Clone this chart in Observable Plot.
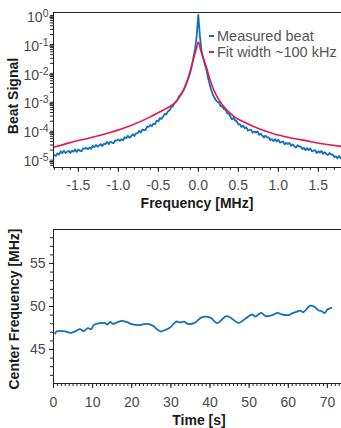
<!DOCTYPE html>
<html>
<head>
<meta charset="utf-8">
<script src="https://cdn.jsdelivr.net/npm/d3@7"></script>
<script src="https://cdn.jsdelivr.net/npm/@observablehq/plot@0.6"></script>
<style>
  body { margin: 0; background: #fff; }
  #wrap { position: relative; width: 341px; height: 428px; overflow: hidden; font-family: "Liberation Sans", Arial, sans-serif; }
  #wrap svg { display: block; }
  .ttl { position: absolute; white-space: nowrap; font-weight: bold; font-size: 14px; color: #1a1a1a; transform: translate(-50%, -50%); line-height: 1; }
  .ttl.rot { transform: translate(-50%, -50%) rotate(-90deg); }
  #legend { position: absolute; left: 209px; top: 28px; font-size: 14.5px; color: #555; line-height: 16px; white-space: nowrap; }
  #legend .sw { display: inline-block; width: 5px; height: 2px; vertical-align: middle; margin-right: 3px; position: relative; top: -1px; }
  g[aria-label$="tick label"] text { fill: #4a4a4a; }
</style>
</head>
<body>
<div id="wrap">
  <div id="topChart"></div>
  <div id="bottomChart"></div>
  <div class="ttl rot" style="left:13px; top:96px;">Beat Signal</div>
  <div class="ttl" style="left:197px; top:203px;">Frequency [MHz]</div>
  <div class="ttl rot" style="left:14px; top:309px;">Center Frequency [MHz]</div>
  <div class="ttl" style="left:199px; top:420px;">Time [s]</div>
  <div id="legend">
    <div><span class="sw" style="background:#1270bb"></span>Measured beat</div>
    <div><span class="sw" style="background:#e5194b"></span>Fit width ~100 kHz</div>
  </div>
</div>
<script>
// ---------- Data: top panel (beat spectrum) ----------
const beatFreqStart = -1.8;   // MHz, first sample
const beatFreqStep = 0.02;    // MHz, sample spacing
// log10 of measured beat signal
const beatLog10 = [
  -4.87,-4.90,-4.81,-4.85,-4.74,-4.80,-4.72,-4.80,-4.76,-4.72,
  -4.80,-4.72,-4.75,-4.68,-4.76,-4.68,-4.72,-4.74,-4.64,-4.65,
  -4.62,-4.67,-4.61,-4.65,-4.55,-4.60,-4.52,-4.58,-4.54,-4.49,
  -4.56,-4.48,-4.49,-4.42,-4.49,-4.41,-4.44,-4.46,-4.36,-4.37,
  -4.33,-4.38,-4.32,-4.36,-4.25,-4.29,-4.20,-4.27,-4.22,-4.15,
  -4.21,-4.12,-4.12,-4.03,-4.09,-3.99,-4.01,-4.01,-3.89,-3.89,
  -3.83,-3.87,-3.78,-3.80,-3.68,-3.70,-3.59,-3.62,-3.54,-3.45,
  -3.46,-3.36,-3.32,-3.21,-3.19,-3.08,-3.03,-2.96,-2.84,-2.78,
  -2.70,-2.60,-2.47,-2.32,-2.18,-2.01,-1.78,-1.48,-1.20,-0.75,
  -0.02,
  -0.75,-1.25,-1.50,-1.72,-1.90,-2.18,-2.40,-2.60,-2.76,-2.88,
  -2.98,-3.03,-3.06,-3.18,-3.20,-3.28,-3.30,-3.42,-3.44,-3.53,
  -3.63,-3.59,-3.67,-3.70,-3.81,-3.80,-3.90,-3.85,-3.94,-3.91,
  -4.02,-4.01,-3.99,-4.10,-4.05,-4.09,-4.05,-4.17,-4.13,-4.20,
  -4.26,-4.20,-4.26,-4.26,-4.35,-4.32,-4.39,-4.32,-4.40,-4.34,
  -4.44,-4.42,-4.40,-4.50,-4.45,-4.49,-4.45,-4.55,-4.50,-4.56,
  -4.61,-4.53,-4.58,-4.57,-4.66,-4.62,-4.70,-4.63,-4.70,-4.64,
  -4.74,-4.72,-4.70,-4.80,-4.74,-4.78,-4.73,-4.83,-4.77,-4.83,
  -4.87,-4.80,-4.85,-4.85,-4.94,-4.91,-4.98,-4.90,-4.98
];
const fitFreq = [-1.81,-1.6,-1.35,-1.1,-0.85,-0.6,-0.45,-0.35,-0.29,-0.24,-0.18,-0.14,-0.10,-0.06,-0.03,0,
                 0.03,0.067,0.10,0.15,0.20,0.25,0.32,0.44,0.61,0.775,0.94,1.15,1.36,1.57,1.79];
const fitLog10 = [-4.60,-4.44,-4.27,-4.09,-3.86,-3.55,-3.33,-3.18,-3.05,-2.88,-2.60,-2.32,-1.95,-1.55,-1.25,-0.96,
                  -1.25,-1.55,-1.82,-2.30,-2.66,-2.93,-3.20,-3.52,-3.78,-3.98,-4.13,-4.27,-4.38,-4.49,-4.57];
const freqTicks = [-1.5,-1.0,-0.5,0.0,0.5,1.0,1.5];
const signalExponents = [-5,-4,-3,-2,-1,0];

// ---------- Data: bottom panel (center frequency vs time) ----------
const timeS = [0.4,0.85,3.0,4.3,5.5,6.8,7.7,8.8,9.6,10.3,11.2,13.2,13.8,14.5,15.2,16.2,17.5,18.8,20.0,21.7,
  22.4,23.5,24.4,25.6,27.3,28.6,29.8,31.4,32.4,33.3,34.4,35.9,38.0,40.1,41.8,44.3,47.3,49.0,50.7,51.5,
  53.1,54.2,55.9,57.3,58.4,60.1,61.2,62.0,63.0,63.8,65.6,66.6,67.8,68.6,69.3,70.0,71.0];
const centerMHz = [46.85,47.13,47.1,46.94,47.1,47.36,47.13,47.48,47.36,47.87,48.02,48.06,47.9,48.2,47.98,48.14,48.33,48.18,47.95,47.83,
  47.87,47.98,47.95,47.71,47.1,47.28,47.56,48.25,48.14,48.25,47.98,48.06,48.76,48.7,48.06,48.88,48.1,48.57,49.07,48.84,
  49.26,48.88,49.0,49.26,49.07,49.0,49.26,49.37,49.53,49.33,50.1,50.0,49.53,49.45,49.22,49.65,49.85];
const timeTicks = [0,10,20,30,40,50,60,70];
const centerTicks = [45,50,55];

// ---------- Build ----------
const BLUE = "#1270bb", RED = "#e5194b", INK = "#222";
const beat = beatLog10.map((v, i) => ({f: beatFreqStart + i * beatFreqStep, s: Math.pow(10, v)}));
const fit = fitFreq.map((f, i) => ({f, s: Math.pow(10, fitLog10[i])}));
const series = timeS.map((t, i) => ({t, c: centerMHz[i]}));

const xTop = [-1.81, 1.79];
const yTop = [Math.pow(10, -5.3), Math.pow(10, 0.06)];
const freqMinor = d3.range(-18, 18).map(i => i / 10);
const signalMajor = signalExponents.map(e => Math.pow(10, e));
const signalMinor = [];
for (let e = -6; e <= 0; e++) for (let m = 2; m <= 9; m++) {
  const v = m * Math.pow(10, e);
  if (v >= yTop[0] && v <= yTop[1]) signalMinor.push(v);
}
const font = {fontFamily: '"Liberation Sans", Arial, sans-serif', fontSize: "14px", color: INK, background: "transparent"};

const topPlot = Plot.plot({
  width: 341, height: 212,
  marginLeft: 53, marginRight: 0, marginTop: 12, marginBottom: 45,
  style: font,
  x: {domain: xTop},
  y: {type: "log", domain: yTop},
  marks: [
    Plot.axisX({ticks: freqMinor, tickSize: 3, tickFormat: () => "", label: null}),
    Plot.axisX({ticks: freqTicks, tickSize: 5, tickPadding: 8, tickFormat: d => d.toFixed(1), label: null, fontSize: 14}),
    Plot.axisY({ticks: signalMinor, tickSize: 3, tickFormat: () => "", label: null}),
    Plot.axisY({ticks: signalMajor, tickSize: 4, tickPadding: 1, dy: 3, fontSize: 14,
      tickFormat: d => "10^" + Math.round(Math.log10(d)), label: null}),
    Plot.line(beat, {x: "f", y: "s", stroke: BLUE, strokeWidth: 1.8}),
    Plot.line(fit, {x: "f", y: "s", stroke: RED, strokeWidth: 1.6, curve: "monotone-x"}),
    Plot.ruleY([yTop[1]], {stroke: INK}),
    Plot.ruleY([yTop[0]], {stroke: INK}),
    Plot.ruleX([xTop[0]], {stroke: INK})
  ]
});

// superscript exponents on the log axis labels
topPlot.querySelectorAll("text").forEach(t => {
  const s = t.textContent;
  if (!s.includes("^")) return;
  const [b, e] = s.split("^");
  t.textContent = "";
  const ns = "http://www.w3.org/2000/svg";
  const t1 = document.createElementNS(ns, "tspan"); t1.textContent = b;
  const t2 = document.createElementNS(ns, "tspan"); t2.textContent = e;
  t2.setAttribute("dy", "-5"); t2.setAttribute("font-size", "10.5px");
  t.appendChild(t1); t.appendChild(t2);
});
document.getElementById("topChart").appendChild(topPlot);

const xBot = [0, 73.6];
const yBot = [41.05, 58.95];
const bottomPlot = Plot.plot({
  width: 341, height: 216,
  marginLeft: 53, marginRight: 0, marginTop: 17, marginBottom: 45,
  style: font,
  x: {domain: xBot},
  y: {domain: yBot},
  marks: [
    Plot.axisX({ticks: d3.range(0, 74), tickSize: 3, tickFormat: () => "", label: null}),
    Plot.axisX({ticks: timeTicks, tickSize: 5, tickPadding: 9, label: null, fontSize: 14}),
    Plot.axisY({ticks: d3.range(42, 59), tickSize: 3, tickFormat: () => "", label: null}),
    Plot.axisY({ticks: centerTicks, tickSize: 4, tickPadding: 4, label: null, fontSize: 14}),
    Plot.line(series, {x: "t", y: "c", stroke: BLUE, strokeWidth: 1.8, curve: "catmull-rom"}),
    Plot.ruleY([yBot[1]], {stroke: INK}),
    Plot.ruleY([yBot[0]], {stroke: INK}),
    Plot.ruleX([xBot[0]], {stroke: INK})
  ]
});
document.getElementById("bottomChart").appendChild(bottomPlot);
</script>
</body>
</html>
